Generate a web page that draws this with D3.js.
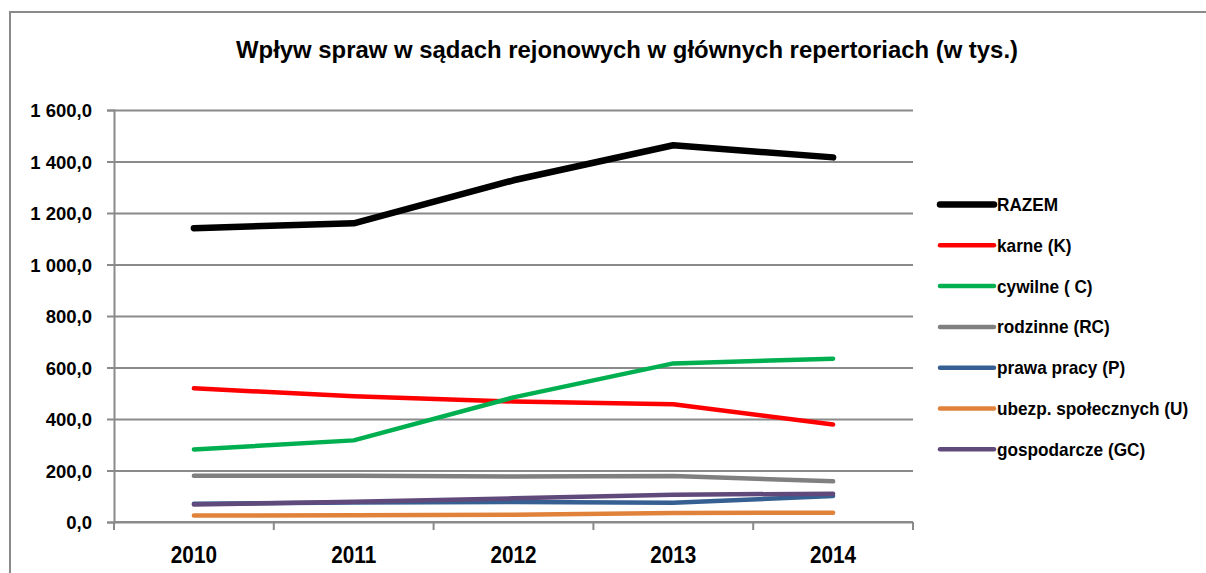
<!DOCTYPE html>
<html>
<head>
<meta charset="utf-8">
<script src="https://cdn.jsdelivr.net/npm/d3@7"></script>
<style>
  html, body { margin: 0; padding: 0; background: #fff; }
  svg { display: block; font-family: "Liberation Sans", Arial, sans-serif; }
</style>
</head>
<body>
<svg id="chart" width="1206" height="573"></svg>
<script>
// Wpływ spraw (w tys.) według repertoriów, lata 2010–2014
const years = ["2010", "2011", "2012", "2013", "2014"];
const seriesNames = ["RAZEM", "karne (K)", "cywilne ( C)", "rodzinne (RC)", "prawa pracy (P)", "ubezp. społecznych (U)", "gospodarcze (GC)"];
const razem       = [1141, 1160, 1327, 1463, 1416];
const karne       = [519, 488, 468, 457, 379];
const cywilne     = [282, 317, 484, 616, 634];
const rodzinne    = [180, 180, 177, 179, 158];
const prawaPracy  = [71, 76, 78, 75, 101];
const ubezp       = [25, 26, 28, 35, 36];
const gospodarcze = [68, 79, 92, 106, 110];
const yTicks = [0, 200, 400, 600, 800, 1000, 1200, 1400, 1600];
const titleText = "Wpływ spraw w sądach rejonowych w głównych repertoriach (w tys.)";

const seriesValues = [razem, karne, cywilne, rodzinne, prawaPracy, ubezp, gospodarcze];
const colors = ["#000000", "#ff0000", "#00b050", "#808080", "#376092", "#e0823a", "#604a7b"];
const widths = [6.5, 4.5, 4.5, 4.5, 4.5, 4.5, 4.5];

const svg = d3.select("#chart");
const gridColor = "#8a8a8a";

// outer frame (top and left edges)
svg.append("path")
  .attr("d", "M10,573 V12 H1206")
  .attr("fill", "none")
  .attr("stroke", gridColor)
  .attr("stroke-width", 2);

// title
svg.append("text")
  .attr("x", 627).attr("y", 58)
  .attr("text-anchor", "middle")
  .attr("font-size", 24).attr("font-weight", "bold")
  .attr("textLength", 782).attr("lengthAdjust", "spacingAndGlyphs")
  .text(titleText);

const plot = { left: 114, right: 913, top: 110, bottom: 522 };

const x = d3.scaleBand().domain(years).range([plot.left, plot.right]);
const y = d3.scaleLinear().domain([0, 1600]).range([plot.bottom, plot.top]);

const fmt = v => d3.format(",.1f")(v).replace(/,/g, " ").replace(".", ",");

// horizontal gridlines + y ticks
const yAxis = d3.axisLeft(y).tickValues(yTicks).tickSize(7).tickFormat(fmt);
const gy = svg.append("g").attr("transform", `translate(${plot.left},0)`).call(yAxis);
gy.select(".domain").attr("stroke", gridColor).attr("stroke-width", 2);
gy.selectAll(".tick line").attr("stroke", gridColor).attr("stroke-width", 2);
gy.selectAll(".tick").append("line")
  .attr("x1", 0).attr("x2", plot.right - plot.left)
  .attr("stroke", gridColor).attr("stroke-width", 2);
gy.selectAll(".tick text")
  .attr("x", -22).attr("dy", "0.37em")
  .attr("fill", "#000")
  .attr("font-family", "Liberation Sans, Arial, sans-serif")
  .attr("font-size", 18.5).attr("font-weight", "bold");

// x axis with ticks between categories
const gx = svg.append("g").attr("transform", `translate(0,${plot.bottom})`);
gx.append("line")
  .attr("x1", plot.left).attr("x2", plot.right)
  .attr("stroke", gridColor).attr("stroke-width", 2);
const bounds = years.map(d => x(d)).concat([x(years[years.length - 1]) + x.bandwidth()]);
gx.selectAll("line.tk").data(bounds).join("line").attr("class", "tk")
  .attr("x1", d => d).attr("x2", d => d)
  .attr("y1", 0).attr("y2", 8)
  .attr("stroke", gridColor).attr("stroke-width", 2);
gx.selectAll("text").data(years).join("text")
  .attr("x", d => x(d) + x.bandwidth() / 2)
  .attr("y", 41)
  .attr("text-anchor", "middle")
  .attr("font-size", 23).attr("font-weight", "bold")
  .text(d => d)
  .each(function () {
    const w = this.getComputedTextLength();
    d3.select(this).attr("textLength", w * 0.9).attr("lengthAdjust", "spacingAndGlyphs");
  });

// series lines
const line = d3.line()
  .x((d, i) => x(years[i]) + x.bandwidth() / 2)
  .y(d => y(d));

svg.append("g").selectAll("path").data(seriesValues).join("path")
  .attr("d", d => line(d))
  .attr("fill", "none")
  .attr("stroke", (d, i) => colors[i])
  .attr("stroke-width", (d, i) => widths[i])
  .attr("stroke-linecap", "round")
  .attr("stroke-linejoin", "round");

// legend
const legend = svg.append("g").attr("transform", "translate(940,204.5)");
const rows = legend.selectAll("g").data(seriesNames).join("g")
  .attr("transform", (d, i) => `translate(0,${i * 40.8})`);
rows.append("line")
  .attr("x1", 0).attr("x2", 54)
  .attr("stroke", (d, i) => colors[i])
  .attr("stroke-width", (d, i) => widths[i])
  .attr("stroke-linecap", "round");
rows.append("text")
  .attr("x", 57).attr("y", 6.5)
  .attr("font-size", 18.5).attr("font-weight", "bold")
  .text(d => d)
  .each(function () {
    const w = this.getComputedTextLength();
    d3.select(this).attr("textLength", w * 0.93).attr("lengthAdjust", "spacingAndGlyphs");
  });
</script>
</body>
</html>
